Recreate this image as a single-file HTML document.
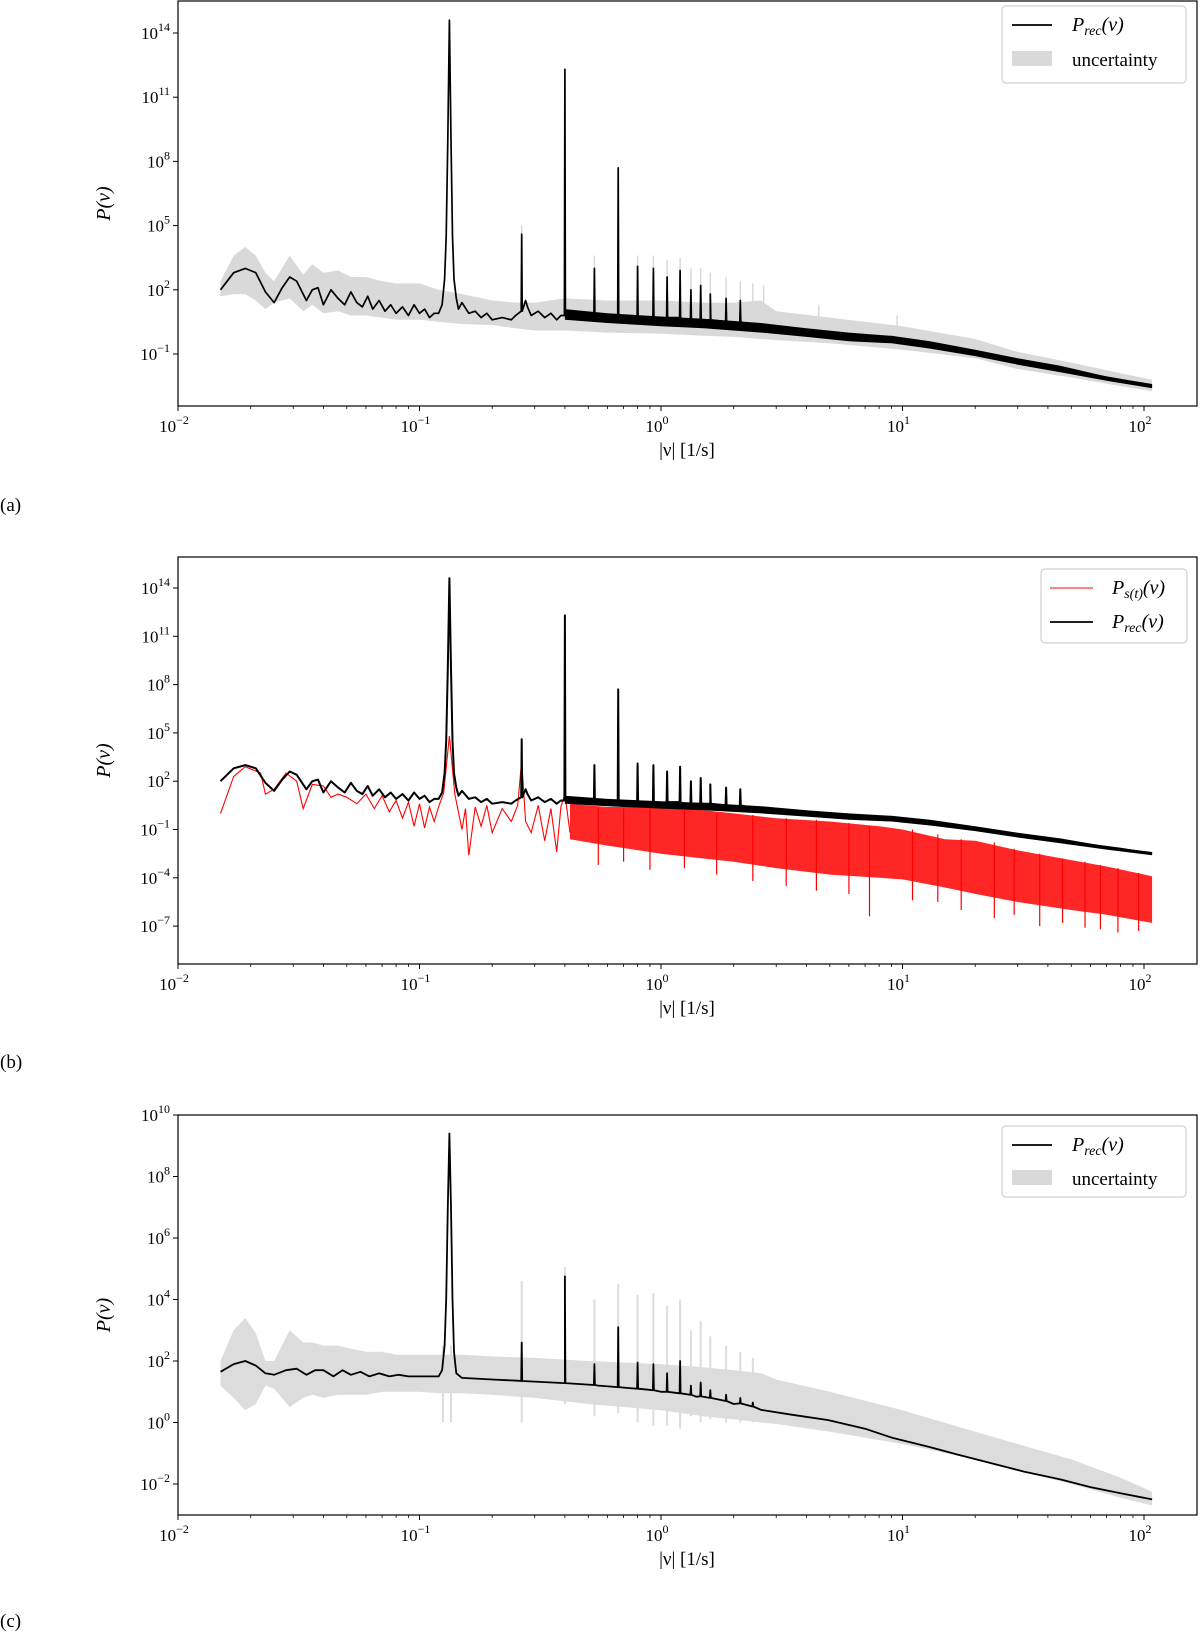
<!DOCTYPE html>
<html><head><meta charset="utf-8">
<style>
html,body{margin:0;padding:0;background:#fff;}
svg{display:block;font-family:"Liberation Serif",serif;}
</style></head>
<body>
<svg id="fig" width="1200" height="1632" viewBox="0 0 1200 1632" xmlns="http://www.w3.org/2000/svg"></svg>
<script>
// ---------- DATA (log10 of power values) ----------
const recFreq = [0.015,0.017,0.019,0.021,0.023,0.025,0.027,0.029,0.031,0.034,0.036,0.038,0.040,0.043,0.046,0.049,0.052,0.055,0.058,0.061,0.064,0.068,0.072,0.076,0.080,0.085,0.090,0.095,0.100,0.105,0.110,0.115,0.120,0.124,0.127,0.129,0.131,0.133,0.135,0.137,0.139,0.142,0.145,0.150,0.160,0.170,0.180,0.190,0.200,0.220,0.240,0.250,0.275,0.280,0.290,0.310,0.330,0.350,0.370,0.385,0.410,0.450,0.500,0.600,0.700,0.850,1.0,1.3,1.6,2.0,2.6,3.5,4.9,7.0,9.1,12,17,24,32,45,60,80,108];
const recLog  = [2.0,2.8,3.0,2.8,1.9,1.4,2.1,2.6,2.4,1.5,2.0,2.1,1.3,2.0,1.6,1.3,1.9,1.4,1.2,1.7,1.1,1.5,1.0,1.3,0.9,1.2,0.8,1.3,0.9,1.1,0.7,0.9,0.9,1.3,2.5,4.5,9.0,14.6,9.0,4.5,2.5,1.6,1.1,1.4,0.9,1.0,0.7,0.9,0.6,0.7,0.6,0.8,1.5,1.2,0.8,1.0,0.7,0.9,0.6,0.8,0.9,0.7,0.8,0.65,0.7,0.55,0.5,0.45,0.35,0.3,0.2,0.05,-0.1,-0.25,-0.35,-0.55,-0.8,-1.1,-1.4,-1.7,-1.95,-2.2,-2.5];
const recPeakFreq = [0.265,0.4,0.53,0.665,0.8,0.93,1.06,1.2,1.33,1.46,1.6,1.86,2.13];
const recPeakTop  = [4.6,12.3,3.0,7.7,3.1,3.0,2.6,2.9,2.0,2.2,1.8,1.6,1.5];
const recPeakBase = [1.0,0.8,0.8,0.7,0.7,0.7,0.7,0.7,0.6,0.6,0.6,0.5,0.5];
// dense jitter envelope of P_rec
const recJitFreq = [0.4,0.6,1,1.5,2.6,4,6,9,13,20,30,45,70,108];
const recJitHi   = [1.1,0.9,0.75,0.65,0.45,0.2,0.0,-0.15,-0.4,-0.8,-1.2,-1.55,-2.05,-2.4];
const recJitLo   = [0.6,0.45,0.3,0.2,0.0,-0.2,-0.4,-0.5,-0.75,-1.1,-1.5,-1.85,-2.25,-2.6];
// Uncertainty band panel (a)
const uncAFreq = [0.015,0.017,0.019,0.021,0.023,0.025,0.029,0.033,0.036,0.04,0.046,0.052,0.06,0.07,0.08,0.1,0.12,0.15,0.2,0.25,0.3,0.4,0.6,1.0,1.5,2.0,2.6,3,5,10,20,30,50,80,108];
const uncAHi   = [2.4,3.6,4.0,3.6,2.8,2.4,3.6,2.7,3.2,2.8,2.9,2.6,2.6,2.4,2.3,2.3,2.0,1.8,1.5,1.4,1.4,1.6,1.5,1.5,1.4,1.4,1.5,1.0,0.7,0.3,-0.3,-0.9,-1.4,-1.9,-2.2];
const uncALo   = [1.7,1.8,1.8,1.5,1.1,1.4,1.6,1.0,1.3,0.9,1.0,0.8,0.8,0.7,0.6,0.6,0.5,0.4,0.35,0.2,0.1,0.1,0.0,-0.05,-0.15,-0.2,-0.3,-0.35,-0.5,-0.8,-1.2,-1.7,-2.1,-2.5,-2.75];
const uncASpikeFreq = [0.265,0.53,0.8,0.93,1.06,1.2,1.33,1.46,1.6,1.86,2.13,2.4,2.66,4.5,9.5];
const uncASpikeTop  = [5.0,3.6,3.6,3.6,3.4,3.5,3.0,3.0,2.8,2.6,2.4,2.3,2.2,1.3,0.8];
const uncASpikeLow  = [0.5,0.5,0.5,0.5,0.5,0.5,0.5,0.5,0.4,0.4,0.4,0.3,0.3,0.0,-0.3];
// Signal spectrum P_s(t) panel (b)
const sigFreq = [0.015,0.017,0.019,0.022,0.023,0.025,0.028,0.031,0.033,0.036,0.040,0.043,0.046,0.050,0.055,0.060,0.065,0.070,0.075,0.080,0.085,0.090,0.095,0.100,0.105,0.110,0.115,0.120,0.126,0.133,0.140,0.150,0.155,0.160,0.170,0.180,0.190,0.200,0.220,0.240,0.255,0.265,0.275,0.290,0.310,0.330,0.350,0.370,0.385,0.400,0.420];
const sigLog  = [0.0,2.3,2.9,2.5,1.2,1.5,2.5,2.0,0.3,1.8,1.7,1.0,1.2,1.0,0.6,1.2,0.3,1.1,0.1,0.8,-0.3,0.7,-0.8,0.6,-0.9,0.4,-0.5,0.4,1.3,4.8,1.2,-1.0,0.3,-2.6,0.4,-0.8,0.5,-1.2,0.3,-0.5,0.5,3.3,-0.5,-1.2,0.5,-1.7,0.3,-2.4,0.4,1.2,-1.2];
const sigBandFreq = [0.42,0.6,1.0,1.5,2.0,3.0,5.0,8.0,10,15,20,30,50,70,108];
const sigBandHi   = [0.6,0.4,0.4,0.2,0.0,-0.3,-0.5,-0.8,-1.0,-1.6,-1.7,-2.3,-2.9,-3.3,-3.9];
const sigBandLo   = [-1.6,-2.0,-2.5,-2.8,-3.0,-3.4,-3.8,-4.0,-4.1,-4.6,-5.0,-5.5,-6.0,-6.3,-6.8];
const sigSpikeFreq = [0.55,0.7,0.9,1.25,1.7,2.4,3.3,4.4,6.0,7.3,11,14,17.5,24,29,37,46,57,66,78,95];
const sigSpikeTop  = [0.3,0.3,0.3,0.2,0.0,-0.1,-0.3,-0.4,-0.6,-0.8,-1.0,-1.3,-1.6,-1.8,-2.2,-2.5,-2.8,-3.0,-3.2,-3.4,-3.7];
const sigSpikeLow  = [-3.2,-3.0,-3.5,-3.4,-3.8,-4.2,-4.5,-4.8,-5.0,-6.4,-5.4,-5.5,-6.0,-6.5,-6.3,-7.0,-6.8,-7.1,-7.2,-7.4,-7.3];
// Panel (c)
const recCFreq = [0.015,0.017,0.019,0.021,0.023,0.025,0.028,0.031,0.034,0.037,0.040,0.044,0.048,0.052,0.057,0.062,0.068,0.075,0.082,0.09,0.1,0.11,0.12,0.124,0.127,0.129,0.131,0.133,0.135,0.137,0.139,0.142,0.15,0.2,0.255,0.3,0.4,0.55,0.74,1.0,1.4,2.0,2.6,3.5,4.9,7,9.1,13,17,24,32,45,60,80,108];
const recCLog  = [1.65,1.9,2.0,1.85,1.6,1.55,1.7,1.75,1.55,1.7,1.7,1.5,1.7,1.55,1.65,1.5,1.6,1.5,1.55,1.5,1.5,1.5,1.5,1.7,2.5,4.0,7.0,9.4,7.0,4.0,2.3,1.6,1.45,1.4,1.36,1.33,1.28,1.2,1.12,1.0,0.84,0.6,0.41,0.25,0.08,-0.2,-0.5,-0.8,-1.05,-1.35,-1.6,-1.85,-2.1,-2.3,-2.5];
const recCPeakFreq = [0.265,0.4,0.53,0.665,0.8,0.93,1.06,1.2,1.33,1.46,1.6,1.86,2.13,2.4];
const recCPeakTop  = [2.6,4.75,1.9,3.1,1.95,1.9,1.6,2.0,1.2,1.3,1.05,0.9,0.8,0.65];
const recCPeakBase = [1.35,1.28,1.22,1.15,1.1,1.05,1.0,0.95,0.9,0.85,0.8,0.7,0.62,0.52];
const uncCFreq = [0.015,0.017,0.019,0.021,0.023,0.025,0.029,0.033,0.036,0.04,0.046,0.052,0.06,0.07,0.08,0.1,0.12,0.15,0.2,0.3,0.5,1.0,1.5,2.0,2.6,3,5,10,20,30,50,80,108];
const uncCHi   = [2.0,3.0,3.4,2.9,2.0,2.0,3.0,2.6,2.6,2.5,2.5,2.4,2.3,2.3,2.2,2.2,2.2,2.2,2.15,2.1,2.0,1.9,1.8,1.7,1.6,1.4,1.0,0.4,-0.3,-0.7,-1.2,-1.8,-2.25];
const uncCLo   = [1.2,0.8,0.4,0.6,1.2,1.1,0.5,0.8,0.9,0.8,0.9,0.9,0.9,1.0,1.0,1.0,0.95,0.95,0.9,0.8,0.6,0.4,0.2,0.1,0.0,-0.05,-0.3,-0.7,-1.2,-1.55,-2.0,-2.45,-2.7];
const uncCSpikeFreq = [0.125,0.135,0.265,0.4,0.53,0.665,0.8,0.93,1.06,1.2,1.33,1.46,1.6,1.86,2.13,2.4];
const uncCSpikeTop  = [2.5,2.5,4.6,5.05,4.0,4.5,4.15,4.2,3.8,4.0,3.0,3.3,2.8,2.5,2.3,2.1];
const uncCSpikeLow  = [0.0,0.0,0.0,0.6,0.2,0.3,0.0,-0.1,-0.1,-0.2,0.2,0.0,0.1,0.0,0.0,0.0];
// Tick labels
const xTickExps = [-2,-1,0,1,2];
const yTicksA = [-1,2,5,8,11,14];
const yTicksB = [-7,-4,-1,2,5,8,11,14];
const yTicksC = [-2,0,2,4,6,8,10];

// ---------- RENDERING ----------
const NS = "http://www.w3.org/2000/svg";
const svg = document.getElementById('fig');
function mk(tag, attrs, parent){
  const e = document.createElementNS(NS, tag);
  for (const k in attrs) e.setAttribute(k, attrs[k]);
  (parent||svg).appendChild(e);
  return e;
}
const X0 = 178, DEC = 241.5;
function xs(f){ return X0 + (Math.log10(f) + 2) * DEC; }
function makeY(refLog, refPx, perDec){ return v => refPx + (refLog - v) * perDec; }

function linePts(fr, lg, pf, pt, pb, y){
  const pts = fr.map((f,i)=>[f, lg[i]]);
  if (pf) pf.forEach((f,i)=>{
    const w = 0.005;
    pts.push([f*(1-w), pb[i]]); pts.push([f, pt[i]]); pts.push([f*(1+w), pb[i]]);
  });
  pts.sort((a,b)=>a[0]-b[0]);
  return pts.map(p=>xs(p[0]).toFixed(1)+','+y(p[1]).toFixed(1)).join(' ');
}
function bandPts(fr, hi, lo, y){
  const top = fr.map((f,i)=>xs(f).toFixed(1)+','+y(hi[i]).toFixed(1));
  const bot = fr.map((f,i)=>xs(f).toFixed(1)+','+y(lo[i]).toFixed(1)).reverse();
  return top.concat(bot).join(' ');
}
function sup(g, x, y, base, exp, anchor){
  const t = mk('text', {x:x, y:y, 'font-size':17, 'text-anchor':anchor||'middle', fill:'#000'}, g);
  t.textContent = base;
  const s = mk('tspan', {'font-size':12, dy:-8}, t);
  s.textContent = exp;
  return t;
}
function axes(name, top, bottom, y, yTicks){
  const g = mk('g', {});
  
  
  const fr = mk('rect', {x:X0, y:top, width:1197-X0, height:bottom-top, fill:'none', stroke:'#000', 'stroke-width':1.2}, g);
  
  
  xTickExps.forEach(e=>{
    const x = xs(Math.pow(10,e));
    mk('line', {x1:x, x2:x, y1:bottom, y2:bottom+5, stroke:'#000'}, g);
    const t = sup(g, x-4, bottom+26, '10', String(e).replace('-','\u2212'));
    
    
    if (e < 2) for (let m=2; m<10; m++){
      const xm = xs(m*Math.pow(10,e));
      mk('line', {x1:xm, x2:xm, y1:bottom, y2:bottom+3, stroke:'#000', 'stroke-width':0.8}, g);
    }
  });
  yTicks.forEach(v=>{
    const yy = y(v);
    mk('line', {x1:X0-5, x2:X0, y1:yy, y2:yy, stroke:'#000'}, g);
    const t = sup(g, X0-8, yy+6, '10', String(v).replace('-','\u2212'), 'end');
    
    
  });
  const xl = mk('text', {x:687, y:bottom+50, 'font-size':19, 'text-anchor':'middle'}, g);
  xl.textContent = '|\u03BD| [1/s]';
  
  
  const cy = (top+bottom)/2;
  const yl = mk('text', {x:0, y:0, 'font-size':20, 'font-style':'italic', 'text-anchor':'middle', transform:'translate(110,'+cy+') rotate(-90)'}, g);
  yl.textContent = 'P(\u03BD)';
  
  
  return g;
}
function clip(id, top, bottom){
  const c = mk('clipPath', {id:id});
  mk('rect', {x:X0, y:top, width:1197-X0, height:bottom-top}, c);
}
function spikes(g, fr, top, low, y, color, w){
  fr.forEach((f,i)=>{
    const s = mk('line', {x1:xs(f), x2:xs(f), y1:y(top[i]), y2:y(low[i]), stroke:color, 'stroke-width':w}, g);
    
    
  });
}
function legendBox(x, y, w, h){
  const r = mk('rect', {x:x, y:y, width:w, height:h, rx:4, fill:'#fff', 'fill-opacity':0.85, stroke:'#d0d0d0', 'stroke-width':1.2});
  
  
}
function legText(x, y, main, sub){
  const t = mk('text', {x:x, y:y, 'font-size':20, 'font-style':'italic'});
  t.textContent = main;
  const s = mk('tspan', {'font-size':14, dy:4}, t);
  s.textContent = sub;
  const r = mk('tspan', {dy:-4}, t);
  r.textContent = '(\u03BD)';
  
  
}
function plainText(x, y, s, size, name){
  const t = mk('text', {x:x, y:y, 'font-size':size});
  t.textContent = s;
  
  
}
function recLine(g, y, w){
  const jb = mk('polygon', {points:bandPts(recJitFreq, recJitHi, recJitLo, y), fill:'#000'}, g);
  
  
  const ln = mk('polyline', {points:linePts(recFreq, recLog, recPeakFreq, recPeakTop, recPeakBase, y), fill:'none', stroke:'#000', 'stroke-width':w, 'stroke-linejoin':'round'}, g);
  
  
}

// ---- Panel (a)
const yA = makeY(14, 33, 21.4);
clip('ca', 1, 406);
{
  const g = mk('g', {'clip-path':'url(#ca)'});
  
  
  const band = mk('polygon', {points:bandPts(uncAFreq, uncAHi, uncALo, yA), fill:'#d9d9d9'}, g);
  
  
  spikes(g, uncASpikeFreq, uncASpikeTop, uncASpikeLow, yA, '#d9d9d9', 1.5);
  recLine(g, yA, 1.7);
}
axes('panel-a', 1, 406, yA, yTicksA);
legendBox(1002, 6, 184, 77);
mk('line', {x1:1012, x2:1052, y1:25, y2:25, stroke:'#000', 'stroke-width':1.8});
legText(1072, 31, 'P', 'rec');
mk('rect', {x:1012, y:51, width:40, height:15, fill:'#d9d9d9'});
plainText(1072, 66, 'uncertainty', 19, 'legend-label');
plainText(0, 511, '(a)', 19, 'panel-label-a');

// ---- Panel (b)
const yB = makeY(14, 588, 16.1);
clip('cb', 557, 964);
{
  const g = mk('g', {'clip-path':'url(#cb)'});
  
  
  const sb = mk('polygon', {points:bandPts(sigBandFreq, sigBandHi, sigBandLo, yB), fill:'#ff0000', 'fill-opacity':0.85}, g);
  
  
  spikes(g, sigSpikeFreq, sigSpikeTop, sigSpikeLow, yB, '#ff0000', 1.2);
  const sl = mk('polyline', {points:linePts(sigFreq, sigLog, null, null, null, yB), fill:'none', stroke:'#ff0000', 'stroke-width':1.1}, g);
  
  
  recLine(g, yB, 2.0);
}
axes('panel-b', 557, 964, yB, yTicksB);
legendBox(1041, 569, 146, 74);
mk('line', {x1:1050, x2:1093, y1:588, y2:588, stroke:'#ff0000', 'stroke-width':1});
legText(1112, 594, 'P', 's(t)');
mk('line', {x1:1050, x2:1093, y1:622, y2:622, stroke:'#000', 'stroke-width':1.8});
legText(1112, 628, 'P', 'rec');
plainText(0, 1068, '(b)', 19, 'panel-label-b');

// ---- Panel (c)
const yC = makeY(10, 1115, 30.75);
clip('cc', 1115, 1515);
{
  const g = mk('g', {'clip-path':'url(#cc)'});
  
  
  const band = mk('polygon', {points:bandPts(uncCFreq, uncCHi, uncCLo, yC), fill:'#dcdcdc'}, g);
  
  
  spikes(g, uncCSpikeFreq, uncCSpikeTop, uncCSpikeLow, yC, '#dcdcdc', 2);
  const ln = mk('polyline', {points:linePts(recCFreq, recCLog, recCPeakFreq, recCPeakTop, recCPeakBase, yC), fill:'none', stroke:'#000', 'stroke-width':1.8, 'stroke-linejoin':'round'}, g);
  
  
}
axes('panel-c', 1115, 1515, yC, yTicksC);
legendBox(1002, 1126, 184, 71);
mk('line', {x1:1012, x2:1052, y1:1145, y2:1145, stroke:'#000', 'stroke-width':1.8});
legText(1072, 1151, 'P', 'rec');
mk('rect', {x:1012, y:1170, width:40, height:15, fill:'#d9d9d9'});
plainText(1072, 1185, 'uncertainty', 19, 'legend-label');
plainText(0, 1627, '(c)', 19, 'panel-label-c');
</script>
</body></html>
